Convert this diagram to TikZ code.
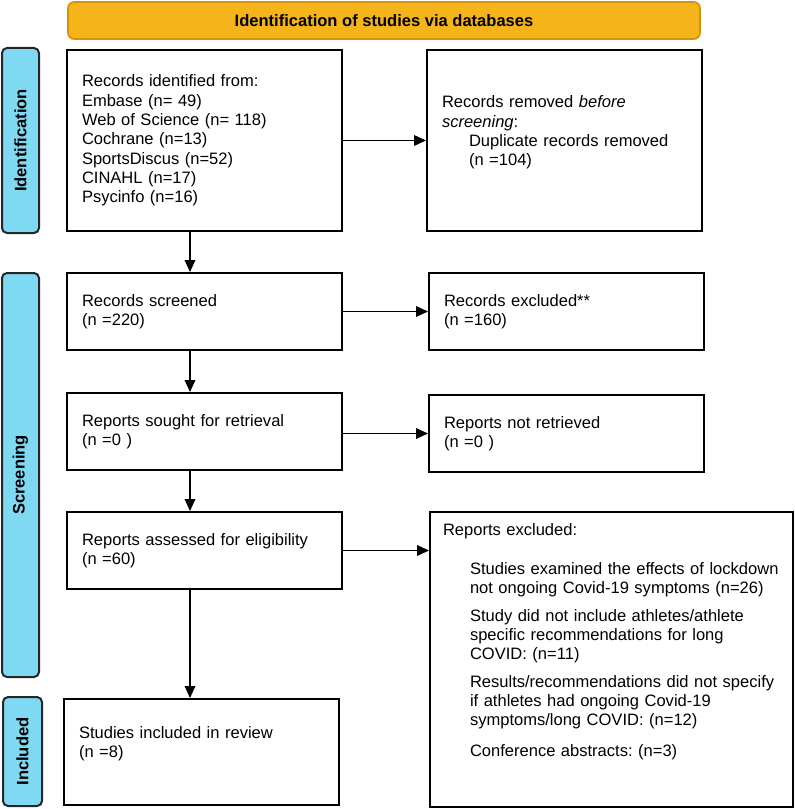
\documentclass[tikz,border=0pt]{standalone}
\usepackage{fontspec}
\setmainfont{Liberation Sans}
\usetikzlibrary{arrows.meta}
\newlength\pxu
\setlength\pxu{0.75pt}
\frenchspacing
\definecolor{bannerfill}{RGB}{245,180,25}
\definecolor{bannerline}{RGB}{215,145,10}
\definecolor{barfill}{RGB}{128,217,242}
\tikzset{
    stage/.style={draw, line width=1.5pt, rectangle, align=left,
        text width=245\pxu, inner xsep=15\pxu, inner ysep=0pt,
        minimum height=77\pxu, font=\fontsize{12.4}{14.5}\selectfont\frenchspacing},
    sidebar/.style={draw=black!85, fill=barfill, line width=1.5pt,
        rounded corners=5\pxu, minimum height=37\pxu, inner sep=0pt,
        rotate=90, font=\fontsize{12.4}{14.5}\selectfont\bfseries},
    flow/.style={-{Triangle[length=9pt,width=8pt]}, line width=1pt}
}
\begin{document}
\begin{tikzpicture}[x=\pxu, y=-\pxu]
        \useasboundingbox 
            (0,0) rectangle (794,809);
        % header and phase bars
        \node 
            (banner) at (384,20.5) [draw=bannerline, fill=bannerfill, line width=1.2pt,
            rounded corners=6\pxu, minimum width=632\pxu, minimum height=37\pxu,
            font=\fontsize{12.4}{14.5}\selectfont\bfseries]
            {Identification of studies via databases};
        \node 
            (idbar) at (20.5,140.5) [sidebar, minimum width=185\pxu] {Identification};
        \node 
            (scbar) at (20.5,475) [sidebar, minimum width=404\pxu] {Screening};
        \node 
            (inbar) at (22.5,751.5) [sidebar, minimum height=39\pxu, minimum width=109\pxu] {Included};
        % left column
        \node 
            (ident) at (204.5,140.5) [stage, minimum height=181\pxu]
            {Records identified from:\\Embase (n= 49)\\Web of Science (n= 118)\\Cochrane (n=13)\\SportsDiscus (n=52)\\CINAHL (n=17)\\Psycinfo (n=16)};
        \node 
            (screened) at (204.5,311.5) [stage] {Records screened\\(n =220)};
        \node 
            (sought) at (204.5,431.5) [stage] {Reports sought for retrieval\\(n =0 )};
        \node 
            (assessed) at (204.5,550.5) [stage] {Reports assessed for eligibility\\(n =60)};
        \node 
            (included) at (201.5,752) [stage, minimum height=106\pxu]
            {Studies included in review\\(n =8)\\\mbox{}};
        % right column
        \node 
            (removed) at (564.5,140.5) [stage, minimum height=181\pxu]
            {Records removed \textit{before}\\\textit{screening}:\\\hspace*{27\pxu}Duplicate records removed\\\hspace*{27\pxu}(n =104)\\\mbox{}};
        \node 
            (excluded) at (566.5,311.5) [stage] {Records excluded**\\(n =160)};
        \node 
            (notretr) at (566.5,433.5) [stage] {Reports not retrieved\\(n =0 )};
        \node 
            (repexcl) at (611.5,659.5) [stage, text width=337\pxu, inner xsep=13\pxu, minimum height=295\pxu]
            {Reports excluded:\\[20\pxu]
            \hspace*{27\pxu}Studies examined the effects of lockdown\\
            \hspace*{27\pxu}not ongoing Covid-19 symptoms (n=26)\\[8\pxu]
            \hspace*{27\pxu}Study did not include athletes/athlete\\
            \hspace*{27\pxu}specific recommendations for long\\
            \hspace*{27\pxu}COVID: (n=11)\\[8\pxu]
            \hspace*{27\pxu}Results/recommendations did not specify\\
            \hspace*{27\pxu}if athletes had ongoing Covid-19\\
            \hspace*{27\pxu}symptoms/long COVID: (n=12)\\[11\pxu]
            \hspace*{27\pxu}Conference abstracts: (n=3)\\[20\pxu]\mbox{}};
        % arrows
        \coordinate 
            (spine) at (190,0);
        \draw 
            [flow] (ident.south -| spine) -- (screened.north -| spine);
        \draw 
            [flow] (screened.south -| spine) -- (sought.north -| spine);
        \draw 
            [flow] (sought.south -| spine) -- (assessed.north -| spine);
        \draw 
            [flow] (assessed.south -| spine) -- (included.north -| spine);
        \draw 
            [flow] (ident.east) -- (removed.west);
        \draw 
            [flow] (screened.east) -- (screened.east -| excluded.west);
        \draw 
            [flow] (notretr.west -| sought.east) -- (notretr.west);
        \draw 
            [flow] (assessed.east) -- (assessed.east -| repexcl.west);
    \end{tikzpicture}
\end{document}
